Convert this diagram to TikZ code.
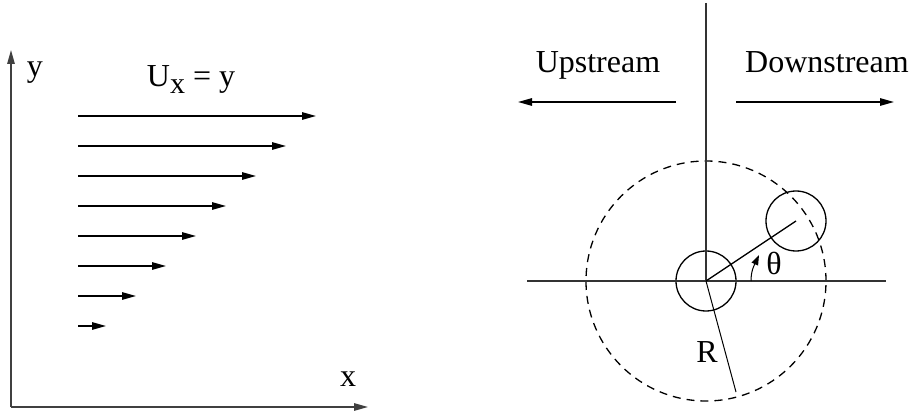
\documentclass[tikz,border=0pt]{standalone}
\usepackage{fontspec}
\setmainfont{Liberation Serif}
\usetikzlibrary{arrows.meta, calc}

\begin{document}
\begin{tikzpicture}[
    x=1pt, y=1pt,
    >={Triangle[length=14pt, width=7.5pt]},
    % Styles
    axis/.style={->, line width=1.3pt, black!75},
    flow/.style={->, line width=1.3pt},
    lbl/.style={font=\fontsize{32}{36}\selectfont, inner sep=0pt, anchor=base},
    grain/.style={circle, draw, line width=1.3pt, minimum size=60pt, inner sep=0pt},
    orbit/.style={draw, line width=1.3pt, dash pattern=on 8pt off 6pt}
]
    \useasboundingbox (0,0) rectangle (914,413);

    % --- Left: shear flow ---
    \coordinate (origin) at (11,6);
    \coordinate (ytip) at (11,363);
    \coordinate (xtip) at (368,6);
    \draw [axis] (origin) -- (ytip);
    \draw [axis] (origin) -- (xtip);
    \node [lbl] (ylabel) at (35,336) {y};
    \node [lbl] (xlabel) at (348,27) {x};
    \node [lbl] (profile) at (191,326) {U\raisebox{-7pt}{\fontsize{30}{30}\selectfont x} = y};

    \foreach \i in {0,...,7} {
        \coordinate (s\i) at (78,{87+30*\i});
        \coordinate (e\i) at ({106+30*\i},{87+30*\i});
        \draw [flow] (s\i) -- (e\i);
    }

    % --- Right: particle pair ---
    \node [grain] (fixed) at (706,132) {};
    \node [grain] (moving) at (796,192) {};
    \coordinate (top) at (706,410);
    \coordinate (west) at (527,132);
    \coordinate (east) at (886,132);
    \coordinate (rim) at (736,21);
    \draw [orbit] (fixed.center) circle[radius=120];
    \draw [line width=1.3pt, black!80] (top) -- (fixed.center);
    \draw [line width=1.3pt, black!80] (west) -- (east);
    \draw [line width=1.3pt] (fixed.center) -- (moving.center);
    \draw [line width=1pt] (fixed.center) -- (rim);
    \node [lbl] (rlabel) at (707,51) {R};

    % Angle
    \coordinate (a0) at (751,132);
    \coordinate (a1) at (759,158);
    \draw [-{Triangle[length=10pt, width=7pt]}, line width=1pt] (a0) to[out=90, in=-115] (a1);
    \node [lbl] (theta) at (774,139) {θ};

    % --- Flow directions ---
    \node [lbl] (up) at (598,340) {Upstream};
    \node [lbl] (down) at (827,340) {Downstream};
    \coordinate (u0) at (676,311);
    \coordinate (u1) at (518,311);
    \coordinate (d0) at (736,311);
    \coordinate (d1) at (894,311);
    \draw [flow] (u0) -- (u1);
    \draw [flow] (d0) -- (d1);

\end{tikzpicture}
\end{document}
